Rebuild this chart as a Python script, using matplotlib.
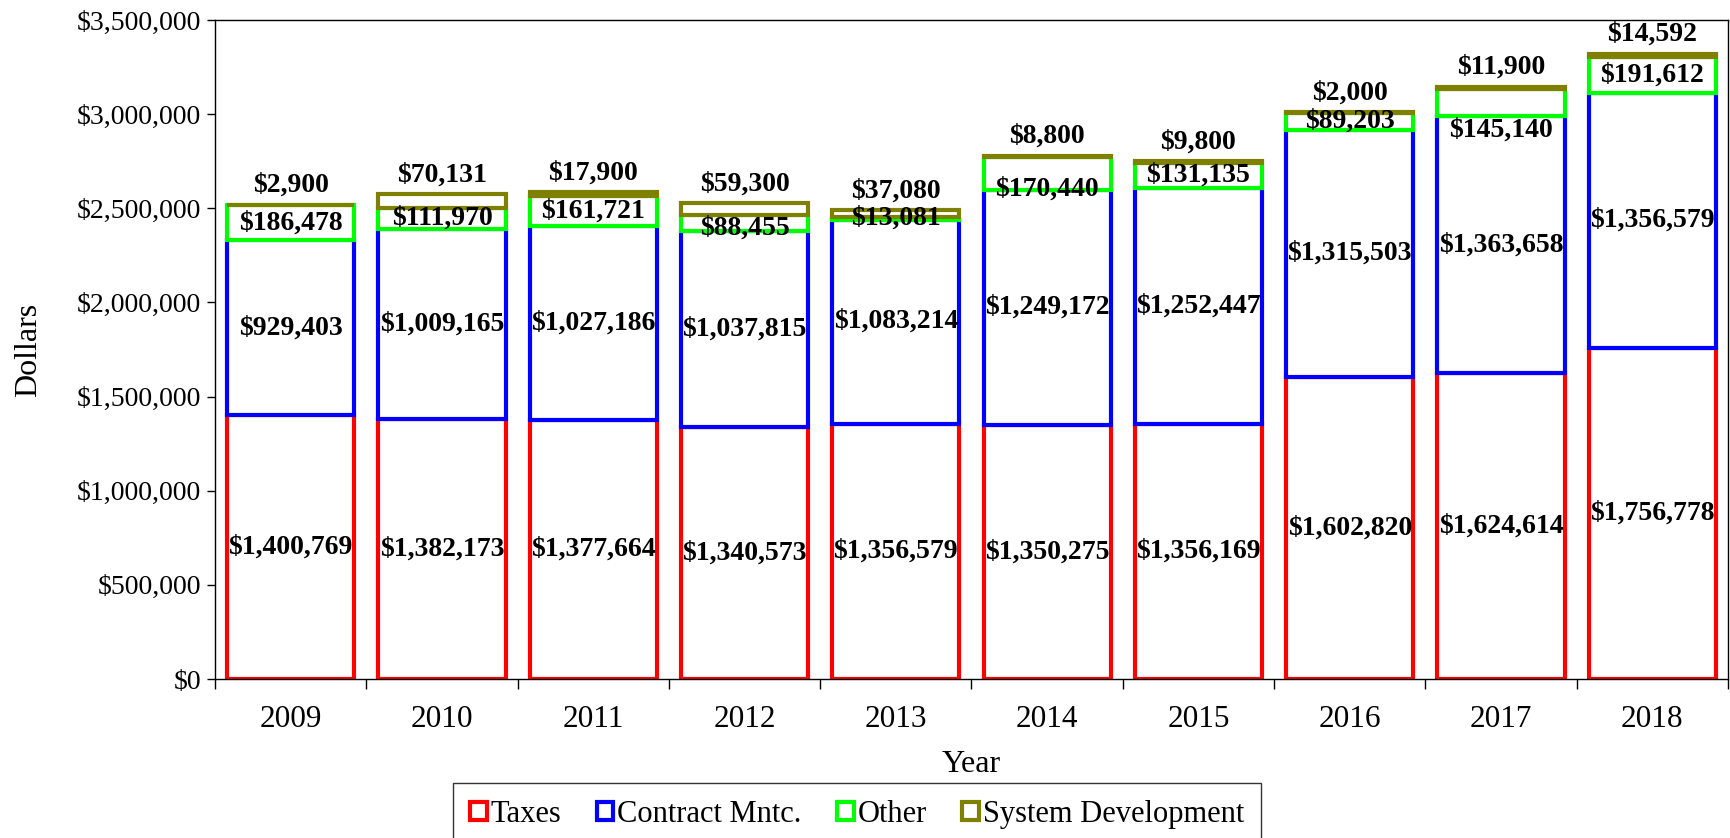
import numpy as np
import matplotlib
matplotlib.use("Agg")
import matplotlib.pyplot as plt
from matplotlib.ticker import FuncFormatter, FixedLocator

years = ["2009", "2010", "2011", "2012", "2013", "2014", "2015", "2016", "2017", "2018"]
taxes = [1400769, 1382173, 1377664, 1340573, 1356579, 1350275, 1356169, 1602820, 1624614, 1756778]
contract = [929403, 1009165, 1027186, 1037815, 1083214, 1249172, 1252447, 1315503, 1363658, 1356579]
other = [186478, 111970, 161721, 88455, 13081, 170440, 131135, 89203, 145140, 191612]
sysdev = [2900, 70131, 17900, 59300, 37080, 8800, 9800, 2000, 11900, 14592]

series = [("Taxes", taxes, "#ff0000"),
          ("Contract Mntc.", contract, "#0000ff"),
          ("Other", other, "#00ff00"),
          ("System Development", sysdev, "#808000")]

# a few labels in the original were dragged off-centre by hand (points, downward)
nudge = {("Other", "2012"): 4, ("Other", "2014"): 11, ("Other", "2017"): 20}

plt.rcParams["font.family"] = ["Liberation Serif", "DejaVu Serif"]

fig = plt.figure(figsize=(17.3, 8.38), dpi=100)
ax = fig.add_axes([0.1243, 0.1897, 0.8745, 0.7864])

x = np.arange(len(years))
bottom = np.zeros(len(years))
handles = []
for i, (name, vals, col) in enumerate(series):
    vals = np.array(vals, dtype=float)
    bars = ax.bar(x, vals, width=0.84, bottom=bottom, facecolor="white",
                  edgecolor=col, linewidth=3.0, label=name)
    handles.append(bars)
    for xi, yr, b, v in zip(x, years, bottom, vals):
        txt = f"${v:,.0f}"
        if i == len(series) - 1:
            ax.annotate(txt, (xi, b + v), xytext=(0, 5), textcoords="offset points",
                        ha="center", va="bottom", fontsize=20, fontweight="bold")
        else:
            dy = nudge.get((name, yr), 0)
            ax.annotate(txt, (xi, b + v / 2), xytext=(0, -dy), textcoords="offset points",
                        ha="center", va="center", fontsize=20, fontweight="bold")
    bottom += vals

ax.set_xlim(-0.5, len(years) - 0.5)
ax.set_ylim(0, 3500000)
ax.yaxis.set_major_locator(FixedLocator(np.arange(0, 3500001, 500000)))
ax.yaxis.set_major_formatter(FuncFormatter(lambda v, p: f"${v:,.0f}"))
ax.set_xticks(x)
ax.set_xticklabels(years)
ax.set_xticks(np.arange(-0.5, len(years), 1.0), minor=True)
ax.tick_params(axis="x", which="major", length=0, pad=19, labelsize=22.5)
ax.tick_params(axis="x", which="minor", length=7, width=1, direction="out")
ax.tick_params(axis="y", length=6, width=1, direction="out", labelsize=20, pad=4)
for s in ax.spines.values():
    s.set_linewidth(1)
    s.set_color("black")

ax.set_xlabel("Year", fontsize=23, labelpad=11)
ax.set_ylabel("Dollars", fontsize=23, labelpad=24)

leg = fig.legend(handles=handles, loc="upper center", bbox_to_anchor=(0.4954, 0.0656),
                 ncol=4, fontsize=22, frameon=True, fancybox=False, edgecolor="black",
                 handlelength=0.55, handleheight=0.55, handletextpad=0.13,
                 columnspacing=1.15, borderpad=0.55, borderaxespad=0)
leg.get_frame().set_linewidth(1)

fig.savefig("out.png", dpi=100)
